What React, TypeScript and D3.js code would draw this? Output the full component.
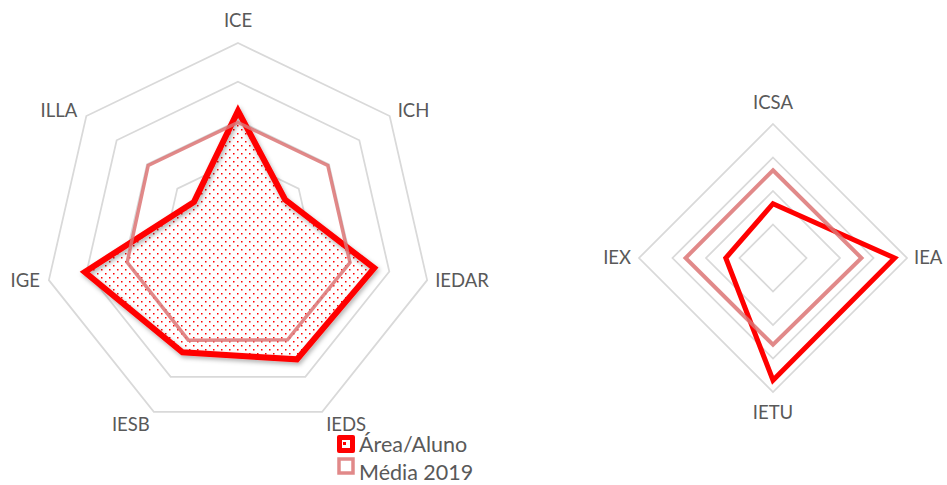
import React from "react";
import * as d3 from "d3";

const leftAxes = ["ICE", "ICH", "IEDAR", "IEDS", "IESB", "IGE", "ILLA"];
const leftArea = [3.25, 1.55, 3.6, 3.5, 3.3, 4.05, 1.45];
const leftMedia = [2.95, 2.96, 2.96, 2.94, 2.95, 2.93, 2.96];
const leftTicks = [1, 2, 3, 4, 5];

const rightAxes = ["ICSA", "IEA", "IETU", "IEX"];
const rightArea = [1.62, 3.63, 3.65, 1.41];
const rightMedia = [2.62, 2.64, 2.59, 2.61];
const rightTicks = [1, 2, 3, 4];

const legendLabels = ["Área/Aluno", "Média 2019"];

const RED = "#FF0000";
const MEDIA = "#DC7474";
const GRID = "#D9D9D9";
const TEXT = "#595959";
const FONT = "Lato, 'Open Sans', sans-serif";

type RadarProps = {
  cx: number;
  cy: number;
  R: number;
  axes: string[];
  area: number[];
  media: number[];
  ticks: number[];
  fill: boolean;
  labelGap: number;
  areaWidth: number;
  mediaWidth: number;
};

function Radar(p: RadarProps) {
  const n = p.axes.length;
  const max = p.ticks[p.ticks.length - 1];
  const r = d3.scaleLinear().domain([0, max]).range([0, p.R]);
  const ang = d3
    .scaleLinear()
    .domain([0, n])
    .range([-Math.PI / 2, (3 * Math.PI) / 2]);
  const pt = (i: number, v: number): [number, number] => [
    p.cx + r(v) * Math.cos(ang(i)),
    p.cy + r(v) * Math.sin(ang(i)),
  ];
  const line = d3.line<[number, number]>().curve(d3.curveLinearClosed);
  const poly = (vals: number[]) => line(vals.map((v, i) => pt(i, v))) || "";

  return (
    <g>
      {p.ticks.map((t) => (
        <path
          key={t}
          d={poly(p.axes.map(() => t))}
          fill="none"
          stroke={GRID}
          strokeWidth={1.75}
        />
      ))}
      {p.fill && (
        <path d={poly(p.area)} fill="url(#dots)" stroke="none" />
      )}
      <path
        d={poly(p.area)}
        fill="none"
        stroke={RED}
        strokeWidth={p.areaWidth}
        strokeLinejoin="miter"
        filter={p.fill ? "url(#shadow)" : undefined}
      />
      <path
        d={poly(p.media)}
        fill="none"
        stroke={MEDIA}
        strokeOpacity={0.85}
        strokeWidth={p.mediaWidth}
        strokeLinejoin="miter"
      />
      {p.axes.map((a, i) => {
        const c = Math.cos(ang(i));
        const s = Math.sin(ang(i));
        const [vx, vy] = pt(i, max);
        let anchor = "middle";
        let x = vx;
        let y = vy;
        let dy = "0.35em";
        if (Math.abs(c) < 0.05) {
          if (s < 0) {
            y = vy - p.labelGap - 1;
            dy = "0em";
          } else {
            y = vy + p.labelGap;
            dy = "0.72em";
          }
        } else if (s > 0.6) {
          anchor = c > 0 ? "start" : "end";
          x = vx + (c > 0 ? 4 : -4);
          y = vy + 5;
          dy = "0.78em";
        } else {
          anchor = c > 0 ? "start" : "end";
          x = vx + (c > 0 ? p.labelGap - 7 : -(p.labelGap - 6));
          y = vy + (s < -0.3 ? -6 : 0);
        }
        return (
          <text
            key={a}
            x={x}
            y={y}
            dy={dy}
            textAnchor={anchor}
            fill={TEXT}
            fontFamily={FONT}
            fontSize={18.5}
          >
            {a}
          </text>
        );
      })}
    </g>
  );
}

export default function App() {
  return (
    <svg
      width={947}
      height={485}
      style={{ position: "absolute", left: 0, top: 0, background: "#fff" }}
    >
      <defs>
        <pattern
          id="dots"
          width={8}
          height={8}
          patternUnits="userSpaceOnUse"
        >
          <rect width={8} height={8} fill="#fff" />
          <rect x={1} y={1} width={1.5} height={1.5} fill="#FF0000" />
          <rect x={5} y={5} width={1.5} height={1.5} fill="#FF0000" />
        </pattern>
        <filter id="shadow" x="-20%" y="-20%" width="140%" height="140%">
          <feDropShadow
            dx={1.5}
            dy={2.5}
            stdDeviation={2}
            floodColor="#000"
            floodOpacity={0.3}
          />
        </filter>
      </defs>
      <Radar
        cx={238}
        cy={237}
        R={194}
        axes={leftAxes}
        area={leftArea}
        media={leftMedia}
        ticks={leftTicks}
        fill={true}
        labelGap={15}
        areaWidth={6}
        mediaWidth={3.5}
      />
      <Radar
        cx={773}
        cy={258}
        R={134}
        axes={rightAxes}
        area={rightArea}
        media={rightMedia}
        ticks={rightTicks}
        fill={false}
        labelGap={14}
        areaWidth={5}
        mediaWidth={4}
      />
      <g>
        <rect x={337} y={435} width={18} height={18} rx={2} fill={RED} />
        <rect x={342} y={440} width={8} height={8} fill="#fff" />
        <rect x={343} y={442} width={3} height={3} fill={RED} />
        <rect
          x={339}
          y={459}
          width={14}
          height={14}
          fill="#fff"
          stroke={MEDIA}
          strokeOpacity={0.85}
          strokeWidth={3.5}
        />
        {legendLabels.map((l, i) => (
          <text
            key={l}
            x={359}
            y={452 + i * 28}
            fill={TEXT}
            fontFamily={FONT}
            fontSize={21.5}
          >
            {l}
          </text>
        ))}
      </g>
    </svg>
  );
}
